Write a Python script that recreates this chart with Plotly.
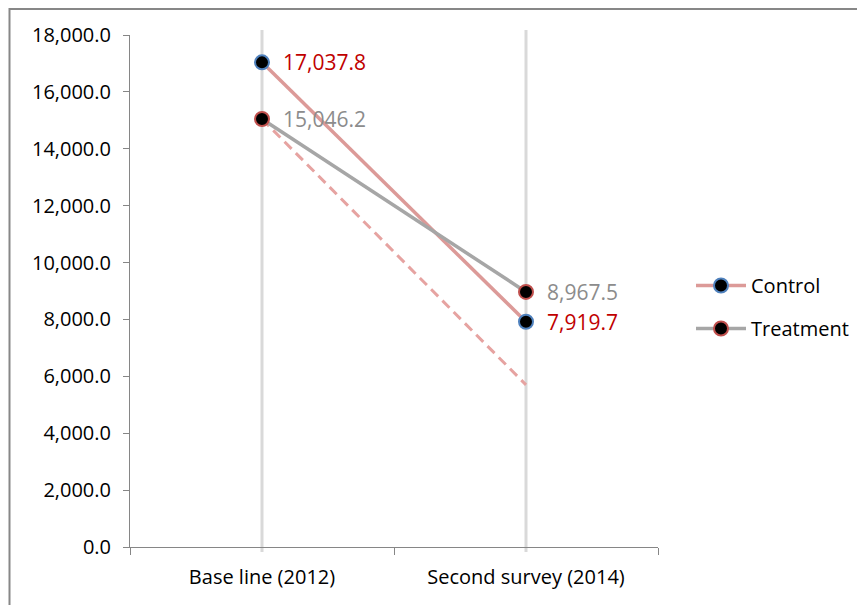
import plotly.graph_objects as go

categories = ["Base line (2012)", "Second survey (2014)"]
control = [17037.8, 7919.7]
treatment = [15046.2, 8967.5]
counterfactual = [15046.2, 5700.0]

FONT = "Open Sans"
L, T, PW, PH = 122, 27, 528, 512
fig = go.Figure()

# vertical category lines
for c in categories:
    fig.add_shape(type="line", xref="x", yref="paper", x0=c, x1=c, y0=-0.01, y1=1.01,
                  line=dict(color="#d9d9d9", width=3), layer="below")

fig.add_trace(go.Scatter(x=categories, y=counterfactual, mode="lines", showlegend=False,
                         line=dict(color="#e6a3a1", width=3, dash="10px,6px"), hoverinfo="skip"))
fig.add_trace(go.Scatter(x=categories, y=control, mode="lines+markers", name="Control",
                         legendgroup="c",
                         line=dict(color="#dc9a98", width=3.5),
                         marker=dict(size=14, color="black", line=dict(color="#4f81bd", width=2))))
fig.add_trace(go.Scatter(x=categories, y=treatment, mode="lines+markers", name="Treatment",
                         legendgroup="t",
                         line=dict(color="#a6a6a6", width=3.5),
                         marker=dict(size=14, color="black", line=dict(color="#c0504d", width=2))))

for c, v in zip(categories, control):
    fig.add_annotation(x=c, y=v, text=f"{v:,.1f}", showarrow=False, xanchor="left", yanchor="middle",
                       xshift=19, font=dict(family=FONT, size=21, color="#c00000"))
for c, v in zip(categories, treatment):
    fig.add_annotation(x=c, y=v, text=f"{v:,.1f}", showarrow=False, xanchor="left", yanchor="middle",
                       xshift=19, font=dict(family=FONT, size=21, color="#8c8c8c"))

# outer border
fig.add_shape(type="rect", xref="paper", yref="paper", x0=(1.5-L)/PW, x1=(900-L)/PW,
              y0=-(700-T-PH)/PH, y1=(T+PH-1)/PH, line=dict(color="#878787", width=2))

fig.update_layout(
    width=865, height=605,
    margin=dict(l=L, r=865-L-PW, t=T, b=605-T-PH),
    paper_bgcolor="white", plot_bgcolor="white",
    font=dict(family=FONT, size=20, color="#000000"),
    legend=dict(x=(683-L)/PW, y=(T+PH-299)/PH, xanchor="left", yanchor="middle", itemwidth=50,
                font=dict(family=FONT, size=20), traceorder="grouped", tracegroupgap=14,
                bgcolor="rgba(0,0,0,0)"),
    xaxis=dict(type="category", range=[-0.5, 1.5], showgrid=False, showline=True,
               linecolor="#868686", linewidth=1, ticks="outside", tickson="boundaries",
               ticklen=7, tickcolor="#868686", zeroline=False, tickfont=dict(size=20),
               ticklabelstandoff=12),
    yaxis=dict(range=[0, 18000], dtick=2000, tickformat=",.1f", showgrid=False, showline=True,
               linecolor="#868686", linewidth=1, ticks="outside", ticklen=6, tickcolor="#868686",
               zeroline=False, tickfont=dict(size=20), ticklabelstandoff=8),
)

fig.write_html("out.html")
